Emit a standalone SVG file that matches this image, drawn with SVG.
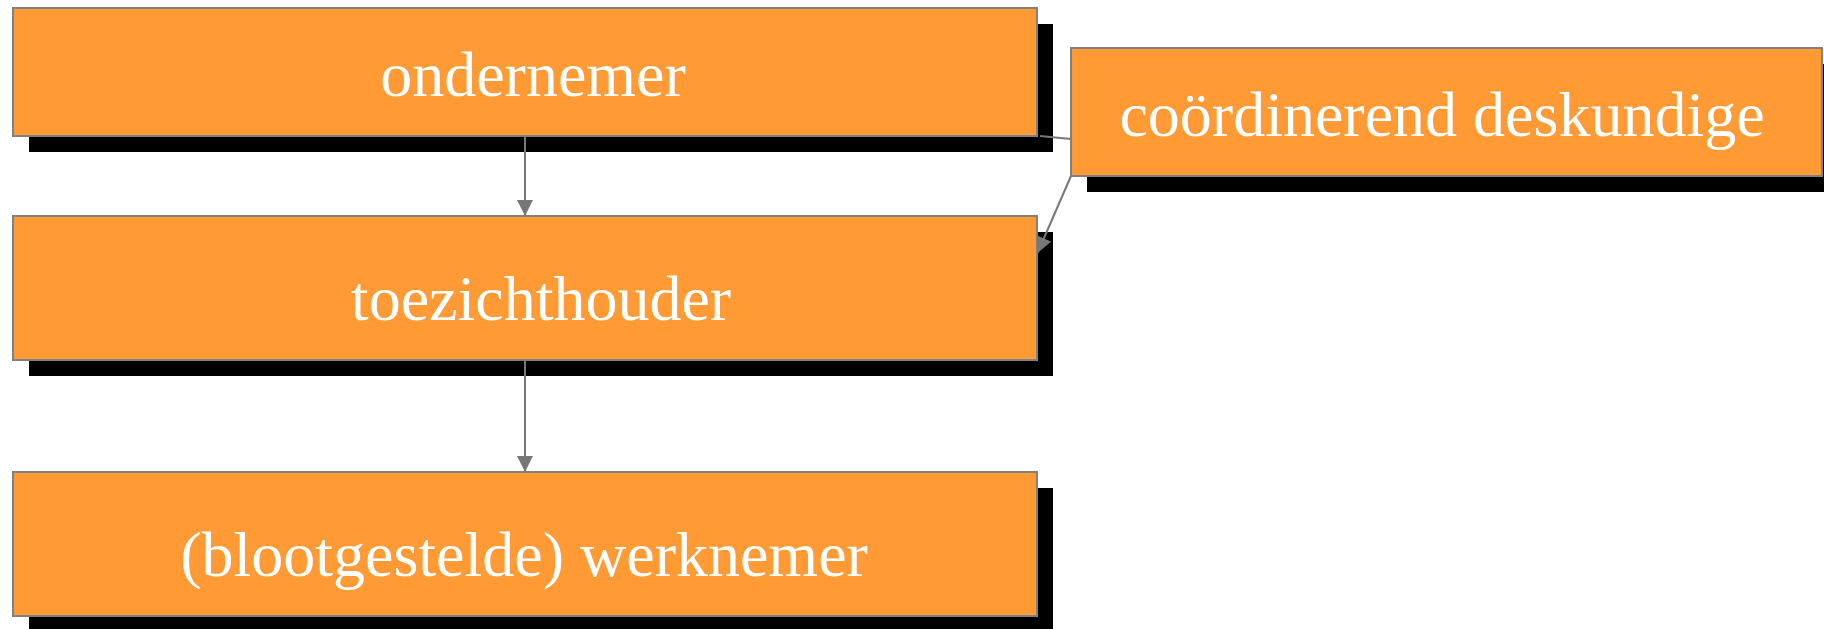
<svg xmlns="http://www.w3.org/2000/svg" width="1824" height="629" viewBox="0 0 1824 629">
<style>
.shadow{fill:#000000}
.box{fill:#FF9A35;stroke:#808080;stroke-width:2}
.label{font-family:"Liberation Serif","Times New Roman",serif;font-size:64px;fill:#FFFFFF;text-anchor:middle}
.conn{stroke:#777777;stroke-width:2;fill:none}
</style>
<defs>
<marker id="arrow" markerWidth="16" markerHeight="16" refX="16" refY="8" orient="auto" markerUnits="userSpaceOnUse">
<path d="M0,0 L16,8 L0,16 Z" fill="#777777"/>
</marker>
</defs>
<rect width="1824" height="629" fill="#FFFFFF"/>
<g id="ondernemer">
<rect class="shadow" x="29" y="24" width="1024" height="128"/>
<rect class="box" x="13" y="8" width="1024" height="128"/>
<text class="label" x="533" y="96">ondernemer</text>
</g>
<g id="coordinerend-deskundige">
<rect class="shadow" x="1087" y="64" width="751" height="128"/>
<rect class="box" x="1071" y="48" width="751" height="128"/>
<text class="label" x="1442" y="136">coördinerend deskundige</text>
</g>
<g id="toezichthouder">
<rect class="shadow" x="29" y="232" width="1024" height="144"/>
<rect class="box" x="13" y="216" width="1024" height="144"/>
<text class="label" x="541" y="320">toezichthouder</text>
</g>
<g id="werknemer">
<rect class="shadow" x="29" y="488" width="1024" height="144"/>
<rect class="box" x="13" y="472" width="1024" height="144"/>
<text class="label" x="524" y="576">(blootgestelde) werknemer</text>
</g>
<g id="connectors">
<line class="conn" x1="525" y1="137" x2="525" y2="216" marker-end="url(#arrow)"/>
<line class="conn" x1="525" y1="361" x2="525" y2="472" marker-end="url(#arrow)"/>
<line class="conn" x1="1040" y1="136" x2="1071" y2="139"/>
<line class="conn" x1="1071" y1="176" x2="1037.5" y2="253" marker-end="url(#arrow)"/>
</g>
</svg>
